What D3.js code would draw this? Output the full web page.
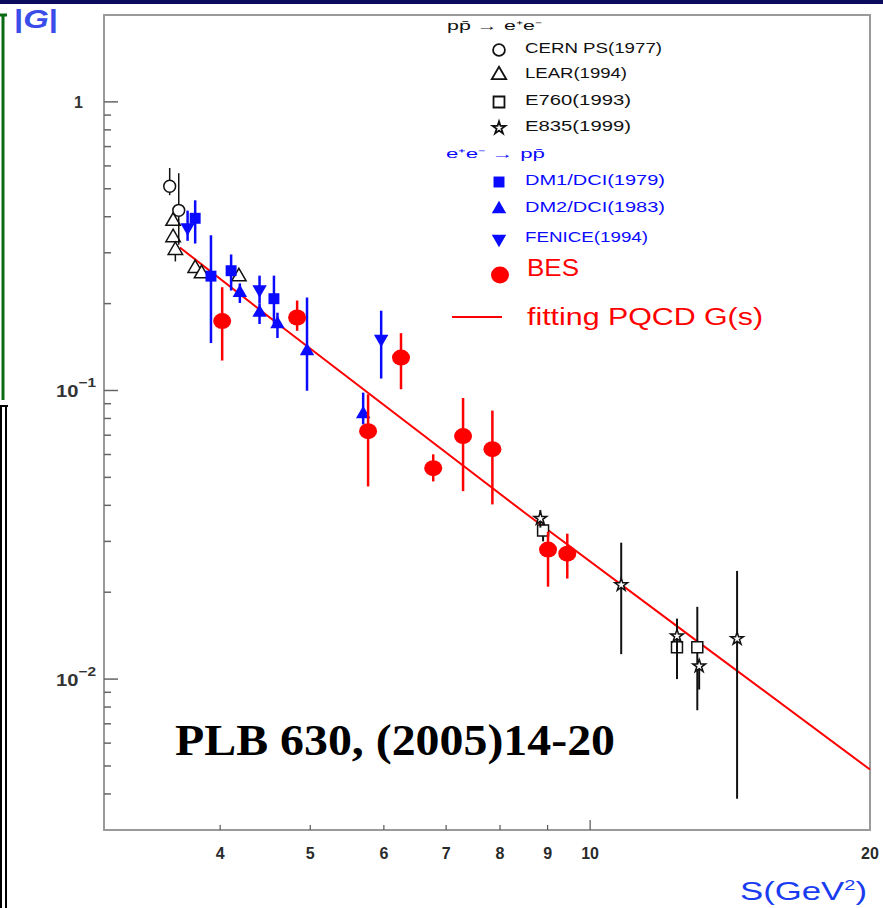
<!DOCTYPE html>
<html>
<head>
<meta charset="utf-8">
<script src="https://cdn.jsdelivr.net/npm/d3@7"></script>
<style>
  body { margin: 0; background: #fff; }
  svg { display: block; font-family: "Liberation Sans", Arial, sans-serif; }
</style>
</head>
<body>
<svg id="chart" width="883" height="908"></svg>
<script>
// Data: s (GeV^2), |G|, error bar low/high
const cernPS = [
    { s: 3.53, g: 0.51, lo: 0.475, hi: 0.59 },
    { s: 3.61, g: 0.421, lo: 0.32, hi: 0.566 }
];
const lear = [
    { s: 3.56, g: 0.386, lo: 0.375, hi: 0.397 },
    { s: 3.56, g: 0.339, lo: 0.329, hi: 0.349 },
    { s: 3.58, g: 0.306, lo: 0.28, hi: 0.33 },
    { s: 3.76, g: 0.265, lo: 0.258, hi: 0.272 },
    { s: 3.82, g: 0.254, lo: 0.247, hi: 0.261 },
    { s: 4.19, g: 0.248, lo: 0.241, hi: 0.255 }
];
const e760 = [
    { s: 8.90, g: 0.0327, lo: 0.030, hi: 0.0355 },
    { s: 12.4, g: 0.0129, lo: 0.0100, hi: 0.0150 },
    { s: 13.04, g: 0.0129, lo: 0.0078, hi: 0.0178 }
];
const e835 = [
    { s: 8.84, g: 0.036, lo: 0.0335, hi: 0.0385 },
    { s: 10.8, g: 0.0212, lo: 0.0122, hi: 0.0297 },
    { s: 12.4, g: 0.0141, lo: 0.0118, hi: 0.0162 },
    { s: 13.1, g: 0.0111, lo: 0.0092, hi: 0.0116 },
    { s: 14.39, g: 0.0138, lo: 0.00385, hi: 0.0237 }
];
const dm1 = [
    { s: 3.76, g: 0.395, lo: 0.323, hi: 0.456 },
    { s: 3.91, g: 0.249, lo: 0.146, hi: 0.345 },
    { s: 4.11, g: 0.260, lo: 0.222, hi: 0.296 },
    { s: 4.57, g: 0.208, lo: 0.17, hi: 0.25 }
];
const dm2 = [
    { s: 4.20, g: 0.218, lo: 0.201, hi: 0.235 },
    { s: 4.41, g: 0.186, lo: 0.17, hi: 0.20 },
    { s: 4.61, g: 0.170, lo: 0.152, hi: 0.186 },
    { s: 4.96, g: 0.137, lo: 0.0998, hi: 0.210 },
    { s: 5.70, g: 0.0829, lo: 0.0763, hi: 0.0983 }
];
const fenice = [
    { s: 3.69, g: 0.367, lo: 0.33, hi: 0.42 },
    { s: 4.41, g: 0.224, lo: 0.20, hi: 0.25 },
    { s: 5.96, g: 0.151, lo: 0.110, hi: 0.189 }
];
const bes = [
    { s: 4.02, g: 0.174, lo: 0.127, hi: 0.228 },
    { s: 4.84, g: 0.179, lo: 0.161, hi: 0.205 },
    { s: 5.77, g: 0.0723, lo: 0.0465, hi: 0.097 },
    { s: 6.26, g: 0.130, lo: 0.101, hi: 0.158 },
    { s: 6.78, g: 0.0538, lo: 0.0484, hi: 0.0601 },
    { s: 7.30, g: 0.0695, lo: 0.0448, hi: 0.0942 },
    { s: 7.85, g: 0.0626, lo: 0.0403, hi: 0.0852 },
    { s: 9.01, g: 0.0281, lo: 0.0209, hi: 0.0324 },
    { s: 9.45, g: 0.0272, lo: 0.0223, hi: 0.0319 }
];
// PQCD fit curve
const fitS = [3.62, 4.64, 8.47, 13.13, 20];
const fitG = [0.313, 0.168, 0.0381, 0.0133, 0.00486];

const xTickValues = [4, 5, 6, 7, 8, 9, 10, 20];
const xTickLabels = ["4", "5", "6", "7", "8", "9", "10", "20"];
const yMajorTicks = [1, 0.1, 0.01];
const yMinorTicks = [0.9, 0.8, 0.7, 0.6, 0.5, 0.4, 0.3, 0.2,
    0.09, 0.08, 0.07, 0.06, 0.05, 0.04, 0.03, 0.02,
    0.009, 0.008, 0.007, 0.006, 0.005, 0.004];

const BLUE = "#0a0aff", RED = "#ff0000", BLACK = "#111";

const svg = d3.select("#chart");

// slide decorations around the picture
svg.append("rect").attr("x", 0).attr("y", 0).attr("width", 883).attr("height", 4).attr("fill", "#0b0b5e");
svg.append("path").attr("d", "M0,15 H7 M3,15 V400").attr("stroke", "#0b6b12").attr("stroke-width", 3).attr("fill", "none");
svg.append("path").attr("d", "M0,406 H8 M1,406 V908 M6,406 V908").attr("stroke", "#000").attr("stroke-width", 2).attr("fill", "none");

const x = d3.scaleLog().domain([3, 20]).range([104, 870]);
const y = d3.scaleLog().domain([0.003, 2]).range([830, 15]);

// frame
svg.append("rect")
    .attr("x", x(3)).attr("y", y(2))
    .attr("width", x(20) - x(3)).attr("height", y(0.003) - y(2))
    .attr("fill", "none").attr("stroke", "#9a9a9a").attr("stroke-width", 2);

// x ticks (inside, pointing up)
const xt = svg.append("g").attr("stroke", "#555").attr("stroke-width", 1.2);
xt.selectAll("line").data(xTickValues.filter(v => v < 20)).enter().append("line")
    .attr("x1", d => x(d)).attr("x2", d => x(d))
    .attr("y1", y(0.003)).attr("y2", d => y(0.003) - (d === 10 ? 10 : 5));
svg.append("g").selectAll("text").data(xTickValues).enter().append("text")
    .attr("x", d => x(d)).attr("y", 859)
    .attr("text-anchor", "middle").attr("font-size", 16).attr("font-weight", "bold")
    .attr("fill", "#2a2a2a")
    .text((d, i) => xTickLabels[i]);

// y ticks (inside, pointing right)
const yt = svg.append("g").attr("stroke", "#666").attr("stroke-width", 1.5);
yt.selectAll(".maj").data(yMajorTicks).enter().append("line")
    .attr("x1", x(3)).attr("x2", x(3) + 14)
    .attr("y1", d => y(d)).attr("y2", d => y(d));
yt.selectAll(".min").data(yMinorTicks).enter().append("line")
    .attr("x1", x(3)).attr("x2", x(3) + 7)
    .attr("y1", d => y(d)).attr("y2", d => y(d));

svg.append("text").attr("x", 83).attr("y", y(1) + 6)
    .attr("text-anchor", "end").attr("font-size", 16).attr("font-weight", "bold").attr("fill", "#333").text("1");
[[0.1, "−1"], [0.01, "−2"]].forEach(([v, e]) => {
    const t = svg.append("text").attr("x", 56).attr("y", y(v) + 7)
        .attr("font-size", 17).attr("font-weight", "bold").attr("fill", "#333")
        .attr("textLength", 40).attr("lengthAdjust", "spacingAndGlyphs");
    t.append("tspan").text("10");
    t.append("tspan").attr("dy", -10).attr("font-size", 13).text(e);
});

// axis titles
const gt = svg.append("text").attr("x", 14).attr("y", 28).attr("font-size", 26)
    .attr("font-weight", "bold").attr("fill", "#3a4de8")
    .attr("textLength", 44).attr("lengthAdjust", "spacingAndGlyphs");
gt.append("tspan").text("|");
gt.append("tspan").attr("font-style", "italic").text("G");
gt.append("tspan").text("|");

const st = svg.append("text").attr("x", 740).attr("y", 900).attr("font-size", 26).attr("fill", "#1a3cf0")
    .attr("textLength", 127).attr("lengthAdjust", "spacingAndGlyphs");
st.append("tspan").text("S(GeV");
st.append("tspan").attr("dy", -10).attr("font-size", 15).text("2");
st.append("tspan").attr("dy", 10).text(")");

// fit line
const line = d3.line().x(d => x(d[0])).y(d => y(d[1]));
svg.append("path").datum(fitS.map((s, i) => [s, fitG[i]]))
    .attr("d", line).attr("fill", "none").attr("stroke", RED).attr("stroke-width", 2);

// marker shapes
const sym = {
    circle: d3.symbol().type(d3.symbolCircle).size(110),
    triangle: d3.symbol().type(d3.symbolTriangle).size(90),
    square: d3.symbol().type(d3.symbolSquare).size(120),
    star: d3.symbol().type(d3.symbolStar).size(50)
};

function drawSeries(data, color, shape, filled, errW, rot) {
    const g = svg.append("g");
    g.selectAll("line").data(data).enter().append("line")
        .attr("x1", d => x(d.s)).attr("x2", d => x(d.s))
        .attr("y1", d => y(d.lo)).attr("y2", d => y(d.hi))
        .attr("stroke", color).attr("stroke-width", errW);
    g.selectAll("path").data(data).enter().append("path")
        .attr("d", sym[shape])
        .attr("transform", d => `translate(${x(d.s)},${y(d.g)})` + (rot ? " rotate(180)" : ""))
        .attr("fill", filled ? color : "#fff")
        .attr("stroke", color).attr("stroke-width", filled ? 0 : 1.5);
}

drawSeries(lear, BLACK, "triangle", false, 1.5);
drawSeries(cernPS, BLACK, "circle", false, 1.5);
drawSeries(e760, BLACK, "square", false, 2);
drawSeries(e835, BLACK, "star", false, 2);
drawSeries(dm1, BLUE, "square", true, 2.5);
drawSeries(dm2, BLUE, "triangle", true, 2.5);
drawSeries(fenice, BLUE, "triangle", true, 2.5, true);

// BES: slightly wide filled ellipses
const bg = svg.append("g");
bg.selectAll("line").data(bes).enter().append("line")
    .attr("x1", d => x(d.s)).attr("x2", d => x(d.s))
    .attr("y1", d => y(d.lo)).attr("y2", d => y(d.hi))
    .attr("stroke", RED).attr("stroke-width", 2.5);
bg.selectAll("ellipse").data(bes).enter().append("ellipse")
    .attr("cx", d => x(d.s)).attr("cy", d => y(d.g))
    .attr("rx", 9).attr("ry", 8).attr("fill", RED);

// legend
const lg = svg.append("g");
function legendText(xp, yp, txt, color, size, width) {
    lg.append("text").attr("x", xp).attr("y", yp).attr("dy", "0.36em")
        .attr("font-size", size).attr("fill", color)
        .attr("textLength", width).attr("lengthAdjust", "spacingAndGlyphs")
        .text(txt);
}
legendText(447, 26, "pp\u0304 \u2192 e\u207Ae\u207B", BLACK, 12, 95);
const legendRows = [
    { y: 48, label: "CERN PS(1977)", color: BLACK, shape: "circle", filled: false, w: 137 },
    { y: 73, label: "LEAR(1994)", color: BLACK, shape: "triangle", filled: false, w: 102 },
    { y: 100, label: "E760(1993)", color: BLACK, shape: "square", filled: false, w: 106 },
    { y: 126, label: "E835(1999)", color: BLACK, shape: "star", filled: false, w: 106 },
    { y: 180, label: "DM1/DCI(1979)", color: BLUE, shape: "square", filled: true, w: 140 },
    { y: 207, label: "DM2/DCI(1983)", color: BLUE, shape: "triangle", filled: true, w: 140 },
    { y: 237, label: "FENICE(1994)", color: BLUE, shape: "triangle", filled: true, w: 123, rot: true }
];
legendRows.forEach(r => {
    lg.append("path").attr("d", sym[r.shape])
        .attr("transform", `translate(499,${r.y + 2})` + (r.rot ? " rotate(180)" : ""))
        .attr("fill", r.filled ? r.color : "#fff")
        .attr("stroke", r.color).attr("stroke-width", r.filled ? 0 : 1.8);
    legendText(525, r.y, r.label, r.color, 14, r.w);
});
legendText(446, 154, "e\u207Ae\u207B \u2192 pp\u0304", BLUE, 12, 99);
lg.append("ellipse").attr("cx", 500).attr("cy", 275).attr("rx", 9).attr("ry", 8.5).attr("fill", RED);
legendText(527, 268, "BES", RED, 23, 52);
lg.append("line").attr("x1", 452).attr("x2", 502).attr("y1", 317).attr("y2", 317)
    .attr("stroke", RED).attr("stroke-width", 2);
legendText(527, 317, "fitting PQCD G(s)", RED, 23, 236);

// reference note
svg.append("text").attr("x", 175).attr("y", 755)
    .attr("font-family", "Liberation Serif, 'Times New Roman', serif")
    .attr("font-weight", "bold").attr("font-size", 44).attr("fill", "#000")
    .attr("textLength", 440).attr("lengthAdjust", "spacingAndGlyphs")
    .text("PLB 630, (2005)14-20");
</script>
</body>
</html>
